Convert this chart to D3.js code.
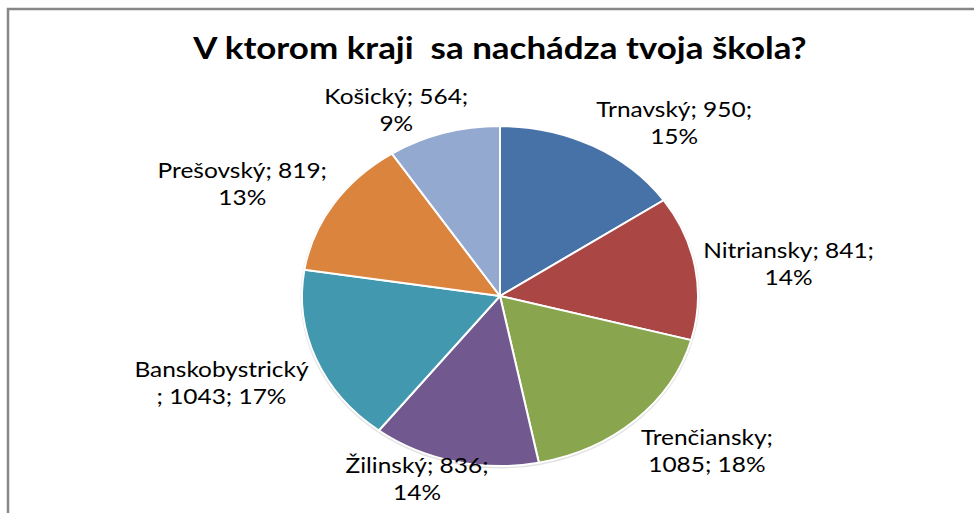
<!DOCTYPE html>
<html>
<head>
<meta charset="utf-8">
<script src="https://cdn.jsdelivr.net/npm/d3@7"></script>
<style>
  body { margin: 0; background: #fff; }
  text { font-family: Lato, "Open Sans", sans-serif; fill: #000; }
</style>
</head>
<body>
<script>
// data
var categories = ["Trnavský", "Nitriansky", "Trenčiansky", "Žilinský", "Banskobystrický", "Prešovský", "Košický"];
var values = [950, 841, 1085, 836, 1043, 819, 564];
var colors = ["#4672a8", "#aa4644", "#89a54e", "#71588f", "#4298af", "#db843d", "#93a9cf"];
var title = "V ktorom kraji  sa nachádza tvoja škola?";

var W = 974, H = 513,
    cx = 500, cy = 296,
    rx = 198, ry = 170,
    k = rx / ry,          // the whole chart is stretched sideways
    lineH = 27,
    maxLabel = 174;

var svg = d3.select("body").append("svg").attr("width", W).attr("height", H);

// chart frame (only top and left edges are inside the picture)
svg.append("path")
    .attr("d", "M8," + (H + 5) + "V9H" + (W + 5))
    .attr("fill", "none")
    .attr("stroke", "#878787")
    .attr("stroke-width", 2.5);

svg.append("text")
    .attr("transform", "translate(" + cx + ",59) scale(" + k + ",1)")
    .attr("text-anchor", "middle")
    .attr("font-size", 30)
    .attr("font-weight", "bold")
    .style("white-space", "pre")
    .text(title);

var total = d3.sum(values);
var pct = d3.format(".0%");

var data = categories.map(function(c, i) { return {name: c, value: values[i], color: colors[i]}; });

var pie = d3.pie().sort(null).value(function(d) { return d.value; });
var arcs = pie(data);

var arc = d3.arc().innerRadius(0).outerRadius(ry);

// faint shadow ring round the pie
svg.append("ellipse")
    .attr("cx", cx).attr("cy", cy + 1)
    .attr("rx", rx + 1.5).attr("ry", ry + 1.5)
    .attr("fill", "#e2e2e2");

var g = svg.append("g")
    .attr("transform", "translate(" + cx + "," + cy + ") scale(" + k + ",1)");

g.selectAll("path")
    .data(arcs)
    .enter().append("path")
      .attr("d", arc)
      .attr("fill", function(d) { return d.data.color; })
      .attr("stroke", "#fff")
      .attr("stroke-width", 2)
      .attr("vector-effect", "non-scaling-stroke");

// labels, wrapped like Excel does
var labels = svg.append("g").attr("font-size", 21);

var measure = labels.append("text").attr("visibility", "hidden");
function textW(s) { measure.text(s); return measure.node().getComputedTextLength() * k; }

function wrap(d) {
  var tokens = [d.data.name + ";", d.data.value + ";", pct(d.data.value / total)];
  if (textW(tokens[0]) > maxLabel) {
    tokens[0] = d.data.name;
    tokens[1] = "; " + tokens[1];
  }
  var lines = [], cur = "";
  tokens.forEach(function(t) {
    var next = cur ? cur + " " + t : t;
    if (cur && textW(next) > maxLabel) { lines.push(cur); cur = t; }
    else cur = next;
  });
  lines.push(cur);
  return lines;
}

function clamp(v) { return Math.max(-1, Math.min(1, v)); }

arcs.forEach(function(d) {
  var lines = wrap(d);
  var w = d3.max(lines, textW), h = lines.length * lineH;
  var a = (d.startAngle + d.endAngle) / 2,
      s = Math.sin(a), c = -Math.cos(a);
  var px = cx + (rx + 8) * s,
      py = cy + (ry + 8) * c;
  var bx = px + w / 2 * clamp(2.2 * s),
      by = py + h / 2 * 0.75 * clamp(2.2 * c);
  by = Math.min(by, H - 12 - h / 2);   // keep the label inside the chart area
  var t = labels.append("text")
      .attr("transform", "translate(" + bx + "," + (by - h / 2) + ") scale(" + k + ",1)")
      .attr("text-anchor", "middle");
  lines.forEach(function(l, i) {
    t.append("tspan")
        .attr("x", 0)
        .attr("y", lineH * i + lineH / 2)
        .attr("dy", "0.6em")
        .text(l);
  });
});
measure.remove();
</script>
</body>
</html>
